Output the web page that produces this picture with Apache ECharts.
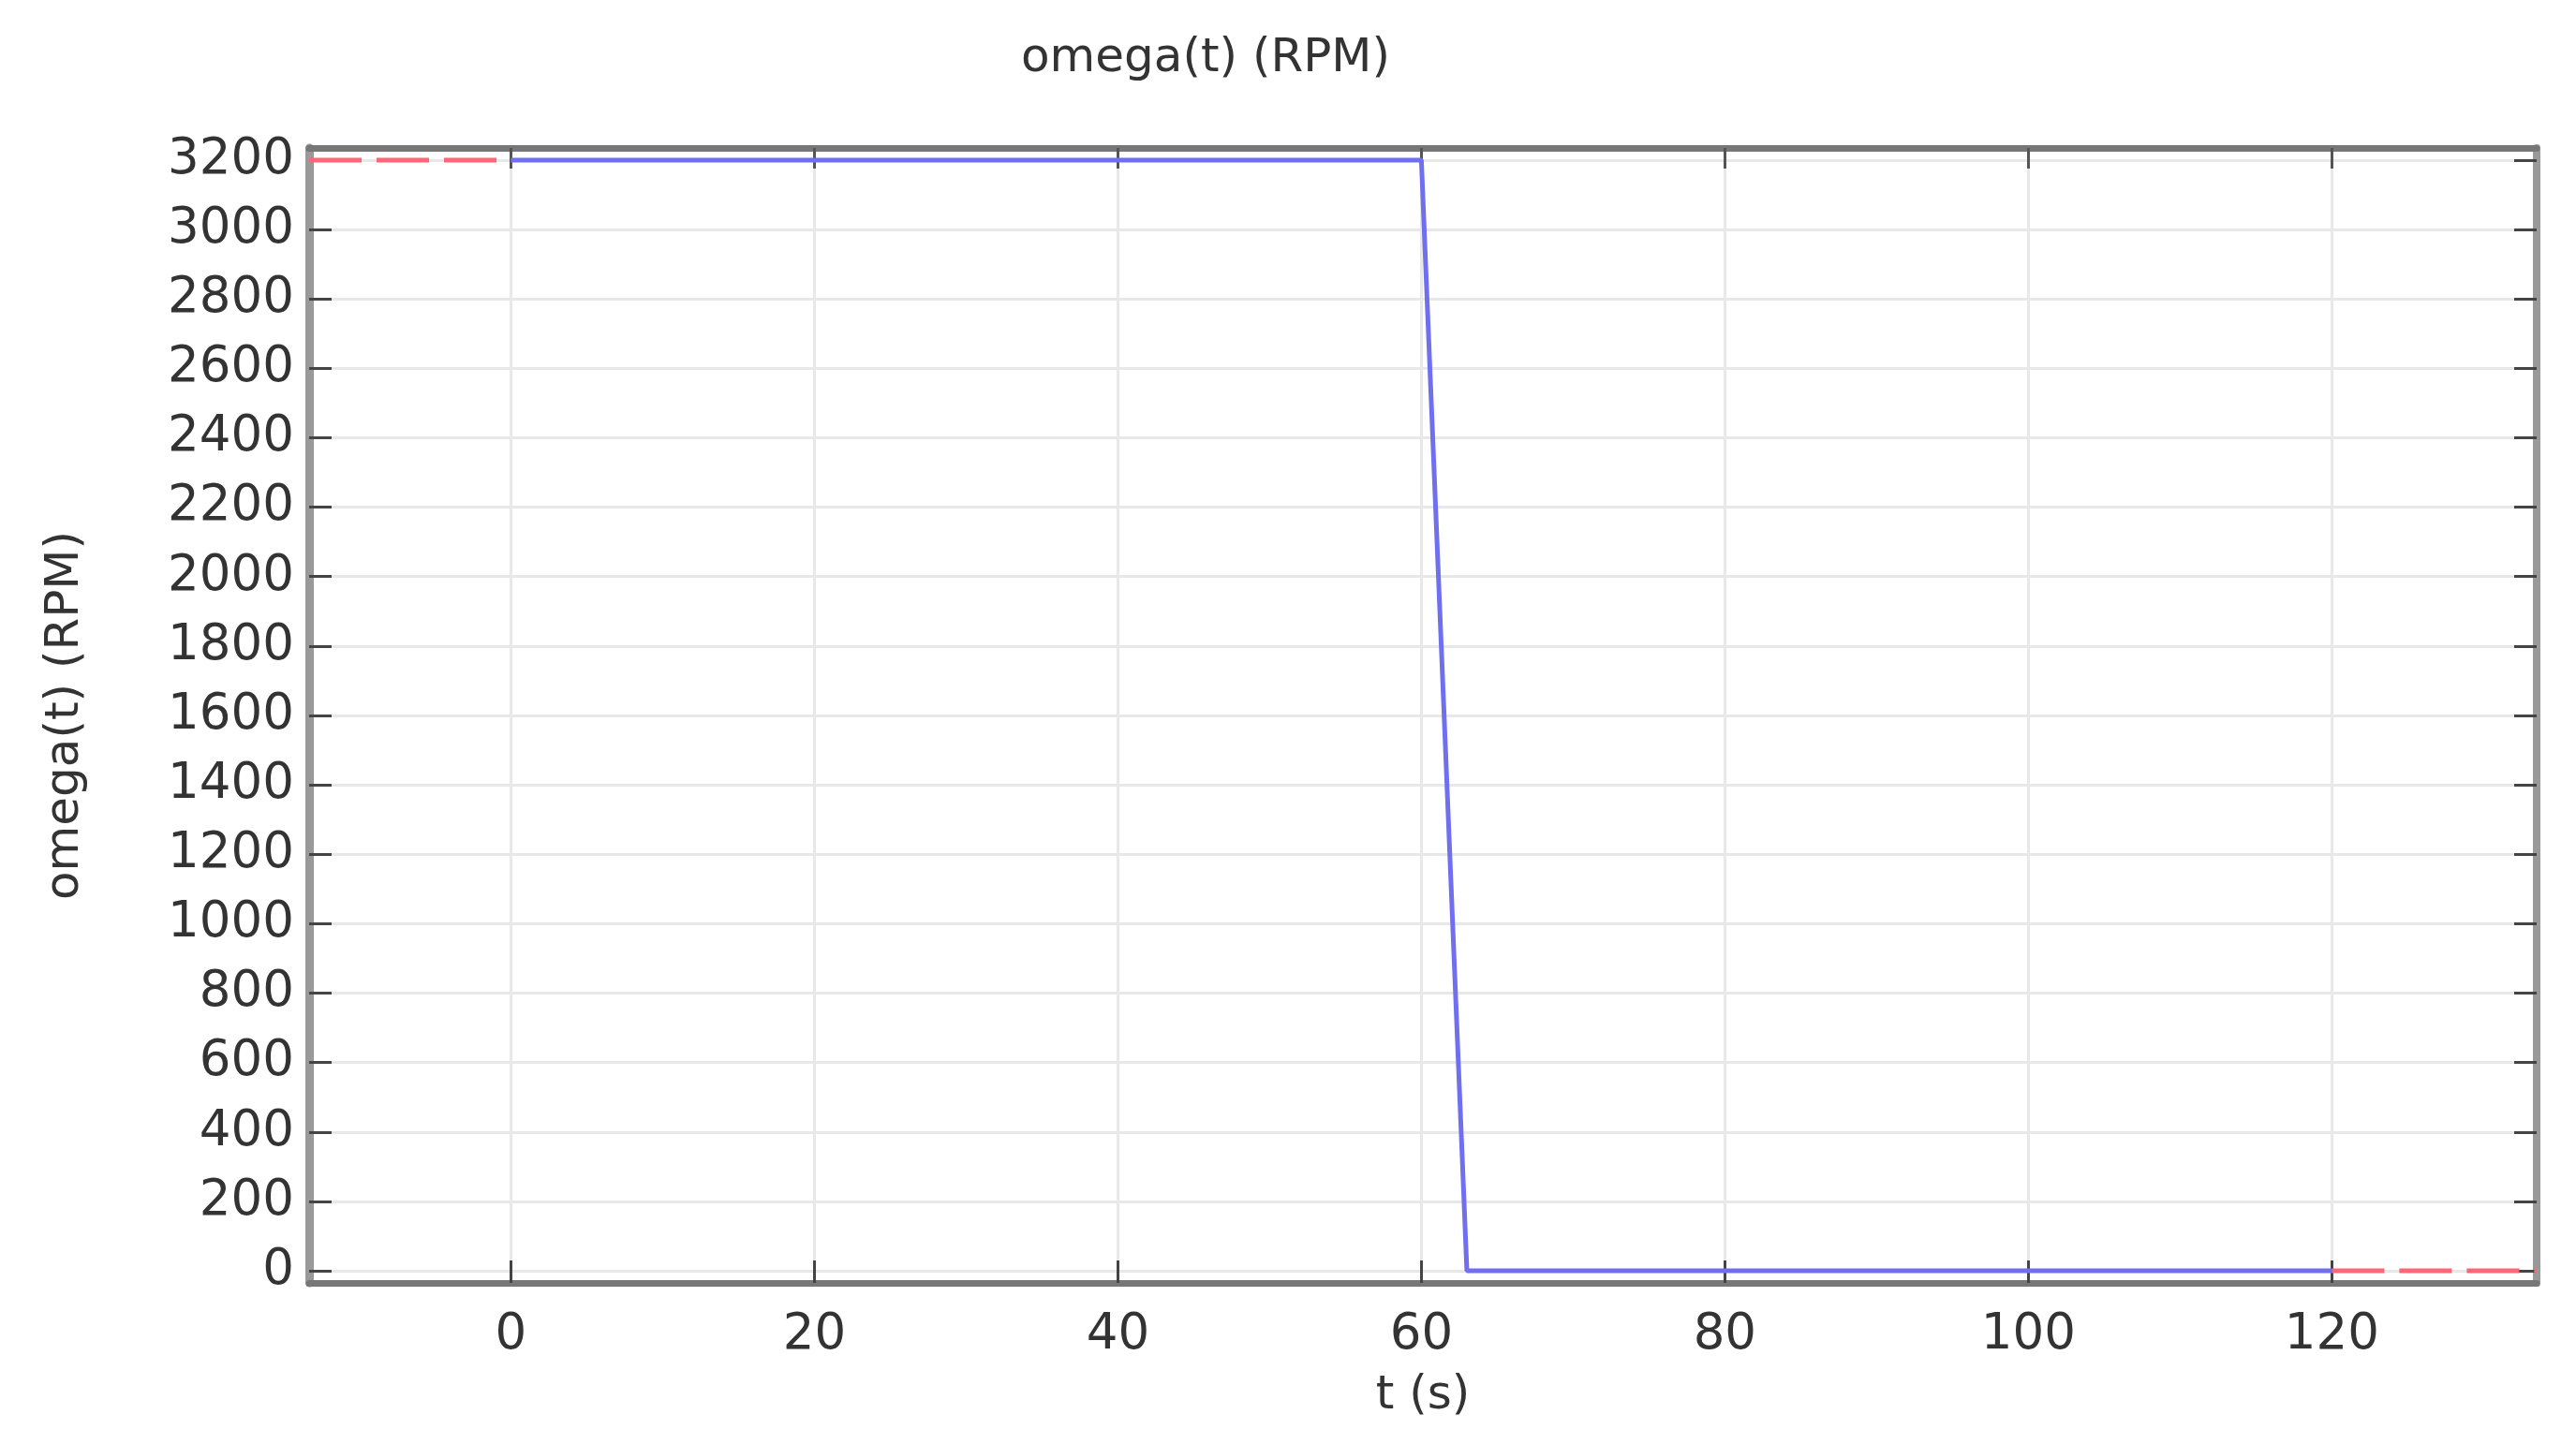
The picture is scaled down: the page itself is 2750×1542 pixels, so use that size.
<!DOCTYPE html>
<html>
<head>
<meta charset="utf-8">
<script src="https://cdn.jsdelivr.net/npm/echarts@6/dist/echarts.min.js"></script>
<style>
html,body{margin:0;padding:0;background:#fff;}
#chart{width:2750px;height:1542px;}
</style>
</head>
<body>
<div id="chart"></div>
<script>
// Data
const titleText = 'omega(t) (RPM)';
const xName = 't (s)';
const yName = 'omega(t) (RPM)';
const xRange = [-13.3, 133.5];
const yRange = [-35, 3235];
const xTicks = [0, 20, 40, 60, 80, 100, 120];
const yTicks = [0, 200, 400, 600, 800, 1000, 1200, 1400, 1600, 1800, 2000, 2200, 2400, 2600, 2800, 3000, 3200];
// main (solid blue) curve
const tMain = [0, 60, 63, 120];
const omegaMain = [3200, 3200, 0, 0];
// extrapolated (dashed red) parts
const tLeft = [-13.3, 0];
const omegaLeft = [3200, 3200];
const tRight = [120, 133.5];
const omegaRight = [0, 0];

const pair = (xs, ys) => xs.map((x, i) => [x, ys[i]]);

const font = 'DejaVu Sans';
const labelColor = '#333';
const plain = v => String(v);

const chart = echarts.init(document.getElementById('chart'));
chart.setOption({
  backgroundColor: '#fff',
  animation: false,
  title: {
    text: titleText,
    left: 1085,
    top: 33,
    textStyle: {fontFamily: font, fontSize: 50, fontWeight: 'normal', color: labelColor}
  },
  grid: {left: 330, right: 42, top: 158, bottom: 172, containLabel: false},
  xAxis: [
    {
      type: 'value', position: 'bottom', min: xRange[0], max: xRange[1],
      name: xName, nameLocation: 'middle', nameGap: 96,
      nameTextStyle: {fontFamily: font, fontSize: 50, color: labelColor},
      axisLine: {show: true, onZero: false, lineStyle: {color: '#777', width: 7}},
      axisTick: {show: true, inside: true, length: 24, customValues: xTicks, lineStyle: {color: '#444', width: 3}},
      axisLabel: {show: true, customValues: xTicks, formatter: plain, margin: 30, fontFamily: font, fontSize: 53, color: labelColor},
      splitLine: {show: true, lineStyle: {color: '#e8e8e8', width: 3}}
    },
    {
      type: 'value', position: 'top', min: xRange[0], max: xRange[1],
      axisLine: {show: true, onZero: false, lineStyle: {color: '#777', width: 7}},
      axisTick: {show: true, inside: true, length: 22, customValues: xTicks, lineStyle: {color: '#555', width: 3}},
      axisLabel: {show: false},
      splitLine: {show: false}
    }
  ],
  yAxis: [
    {
      type: 'value', position: 'left', min: yRange[0], max: yRange[1],
      name: yName, nameLocation: 'middle', nameGap: 235,
      nameTextStyle: {fontFamily: font, fontSize: 50, color: labelColor},
      axisLine: {show: true, onZero: false, lineStyle: {color: '#999', width: 9}},
      axisTick: {show: true, inside: true, length: 24, customValues: yTicks, lineStyle: {color: '#444', width: 3}},
      axisLabel: {show: true, customValues: yTicks, formatter: plain, margin: 16, fontFamily: font, fontSize: 53, color: labelColor},
      splitLine: {show: true, lineStyle: {color: '#e8e8e8', width: 3}}
    },
    {
      type: 'value', position: 'right', min: yRange[0], max: yRange[1],
      axisLine: {show: true, onZero: false, lineStyle: {color: '#999', width: 8}},
      axisTick: {show: true, inside: true, length: 24, customValues: yTicks, lineStyle: {color: '#444', width: 3}},
      axisLabel: {show: false},
      splitLine: {show: false}
    }
  ],
  series: [
    {
      type: 'line', xAxisIndex: 0, yAxisIndex: 0, data: pair(tLeft, omegaLeft),
      showSymbol: false, lineStyle: {color: '#ff6677', width: 5, type: [56, 16]}, z: 3
    },
    {
      type: 'line', xAxisIndex: 0, yAxisIndex: 0, data: pair(tRight, omegaRight),
      showSymbol: false, lineStyle: {color: '#ff6677', width: 5, type: [56, 16]}, z: 3
    },
    {
      type: 'line', xAxisIndex: 0, yAxisIndex: 0, data: pair(tMain, omegaMain),
      showSymbol: false, lineStyle: {color: '#6f6ff0', width: 5}, z: 4
    }
  ]
});
</script>
</body>
</html>
